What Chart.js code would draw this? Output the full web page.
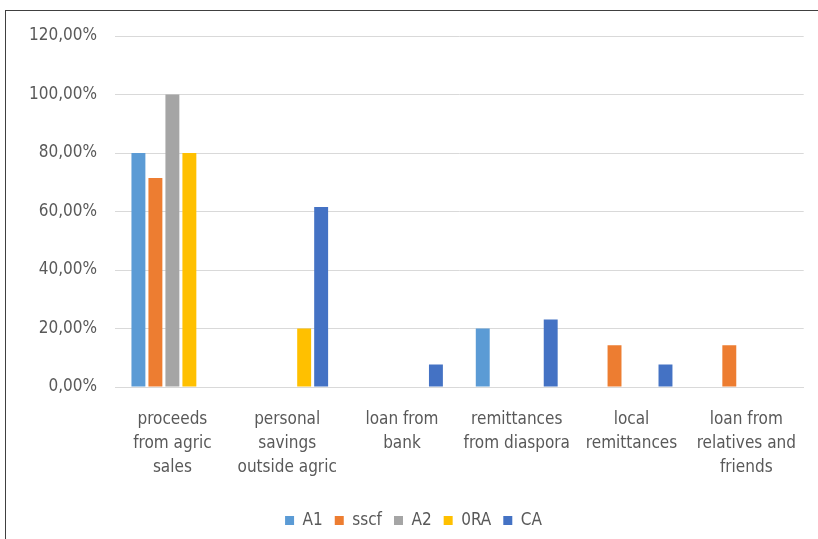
<!DOCTYPE html>
<html>
<head>
<meta charset="utf-8">
<script src="https://cdn.jsdelivr.net/npm/chart.js@4.4.1/dist/chart.umd.min.js"></script>
<style>
  html, body { margin: 0; background: #fff; overflow: hidden; width: 818px; height: 539px; }
  #frame { position: absolute; left: 5px; top: 10px; width: 813px; height: 529px; border-top: 1px solid #404040; border-left: 1px solid #404040; }
  #wrap { position: absolute; left: 0; top: 0; width: 818px; height: 539px; }
</style>
</head>
<body>
<div id="frame"></div>
<div id="wrap"><canvas id="myChart"></canvas></div>
<script>
var categories = [
  ['proceeds', 'from agric', 'sales'],
  ['personal', 'savings', 'outside agric'],
  ['loan from', 'bank'],
  ['remittances', 'from diaspora'],
  ['local', 'remittances'],
  ['loan from', 'relatives and', 'friends']
];
var seriesNames = ['A1', 'sscf', 'A2', '0RA', 'CA'];
var a1   = [80, 0, 0, 20, 0, 0];
var sscf = [71.43, 0, 0, 0, 14.29, 14.29];
var a2   = [100, 0, 0, 0, 0, 0];
var ora  = [80, 20, 0, 0, 0, 0];
var ca   = [0, 61.54, 7.69, 23.08, 7.69, 0];
var yTicks = [0, 20, 40, 60, 80, 100, 120];

var colors = ['#5B9BD5', '#ED7D31', '#A5A5A5', '#FFC000', '#4472C4'];
var values = [a1, sscf, a2, ora, ca];
var font = "'Liberation Sans Narrow', 'DejaVu Sans Condensed', sans-serif";

var datasets = [];
for (var i in seriesNames) {
  datasets.push({
    label: seriesNames[i],
    data: values[i],
    backgroundColor: colors[i],
    borderWidth: 0,
    barPercentage: 0.82,
    categoryPercentage: 0.74
  });
}

var ctx = document.getElementById('myChart');
var chart = new Chart(ctx, {
  type: 'bar',
  data: { labels: categories, datasets: datasets },
  options: {
    responsive: true,
    maintainAspectRatio: false,
    animation: false,
    layout: { padding: { left: 22, top: 36, right: 13, bottom: 0 } },
    plugins: {
      tooltip: { enabled: false },
      legend: {
        position: 'bottom',
        labels: {
          boxWidth: 9, boxHeight: 9, padding: 12,
          color: '#595959',
          font: { family: font, size: 17 }
        }
      }
    },
    scales: {
      x: {
        grid: { display: false, drawTicks: false },
        border: { display: true, color: '#d9d9d9' },
        ticks: {
          color: '#595959', padding: 21, maxRotation: 0, autoSkip: false,
          font: { family: font, size: 17, lineHeight: 1.4 }
        },
        afterFit: function (s) { s.height = 113; }
      },
      y: {
        min: 0, max: 120,
        afterBuildTicks: function (s) { s.ticks = yTicks.map(function (v) { return { value: v }; }); },
        grid: { color: '#d9d9d9', drawTicks: false },
        border: { display: false },
        ticks: {
          color: '#595959', padding: 18,
          font: { family: font, size: 17 },
          callback: function (v) { return v.toFixed(2).replace('.', ',') + '%'; }
        },
        afterFit: function (s) { s.width = 93; }
      }
    }
  }
});
</script>
</body>
</html>
